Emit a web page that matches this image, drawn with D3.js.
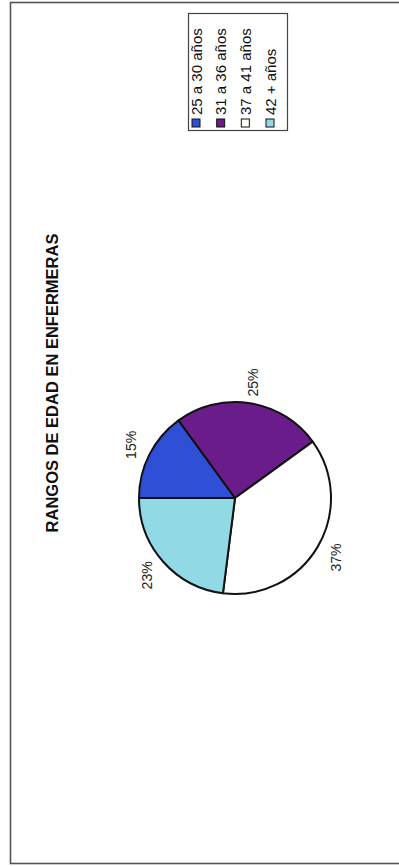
<!DOCTYPE html>
<html>
<head>
<meta charset="utf-8">
<script src="https://cdn.jsdelivr.net/npm/d3@7"></script>
<style>
  body { margin: 0; background: #fff; }
  svg { display: block; font-family: Arial, 'Liberation Sans', sans-serif; }
</style>
</head>
<body>
<svg width="399" height="866"></svg>
<script>
const categories = ['25 a 30 años', '31 a 36 años', '37 a 41 años', '42 + años']
const values = [15, 25, 37, 23]
const labels = ['15%', '25%', '37%', '23%']
const colors = ['#2f50d6', '#6a1c8a', '#ffffff', '#92d9e6']
const title = 'RANGOS DE EDAD EN ENFERMERAS'

const svg = d3.select('svg')
const width = +svg.attr('width')
const height = +svg.attr('height')

// the scanned chart sits on its side: draw it upright, then turn it
const g = svg.append('g')
  .attr('transform', `translate(0, ${height}) rotate(-90)`)

// frame
g.append('rect')
  .attr('x', 2.5)
  .attr('y', 10.5)
  .attr('width', 861)
  .attr('height', 400)
  .attr('fill', 'none')
  .attr('stroke', '#555')
  .attr('stroke-width', 1.6)

g.append('text')
  .attr('x', 483)
  .attr('y', 58)
  .attr('text-anchor', 'middle')
  .attr('font-size', 16.5)
  .attr('font-weight', 'bold')
  .attr('fill', '#111')
  .text(title)

// pie
const cx = 368
const cy = 235
const radius = 96

const pie = d3.pie().sort(null).value(d => d)
const arc = d3.arc().innerRadius(0).outerRadius(radius)
const labelArc = d3.arc().innerRadius(117).outerRadius(117)

const pg = g.append('g').attr('transform', `translate(${cx}, ${cy})`)
const arcs = pie(values)

pg.selectAll('path').data(arcs)
  .enter().append('path')
  .attr('d', arc)
  .attr('fill', (d, i) => colors[i])
  .attr('stroke', '#111')
  .attr('stroke-width', 2)
  .attr('stroke-linejoin', 'round')

pg.selectAll('text').data(arcs)
  .enter().append('text')
  .attr('transform', d => `translate(${labelArc.centroid(d)})`)
  .attr('text-anchor', 'middle')
  .attr('dominant-baseline', 'central')
  .attr('font-size', 14)
  .attr('fill', '#222')
  .text((d, i) => labels[i])

// legend
const legend = g.append('g')
legend.append('rect')
  .attr('x', 735.5)
  .attr('y', 188.5)
  .attr('width', 117)
  .attr('height', 99)
  .attr('fill', '#fff')
  .attr('stroke', '#444')
  .attr('stroke-width', 1.2)

const rowY = d3.scalePoint()
  .domain(categories)
  .range([196, 270])

const items = legend.selectAll('g.item').data(categories)
  .enter().append('g')
  .attr('class', 'item')
  .attr('transform', d => `translate(739, ${rowY(d)})`)

items.append('rect')
  .attr('x', 0)
  .attr('y', -4)
  .attr('width', 8)
  .attr('height', 8)
  .attr('fill', (d, i) => colors[i])
  .attr('stroke', '#111')
  .attr('stroke-width', 1)

items.append('text')
  .attr('x', 12)
  .attr('y', 5.5)
  .attr('font-size', 15)
  .attr('fill', '#111')
  .text(d => d)
</script>
</body>
</html>
